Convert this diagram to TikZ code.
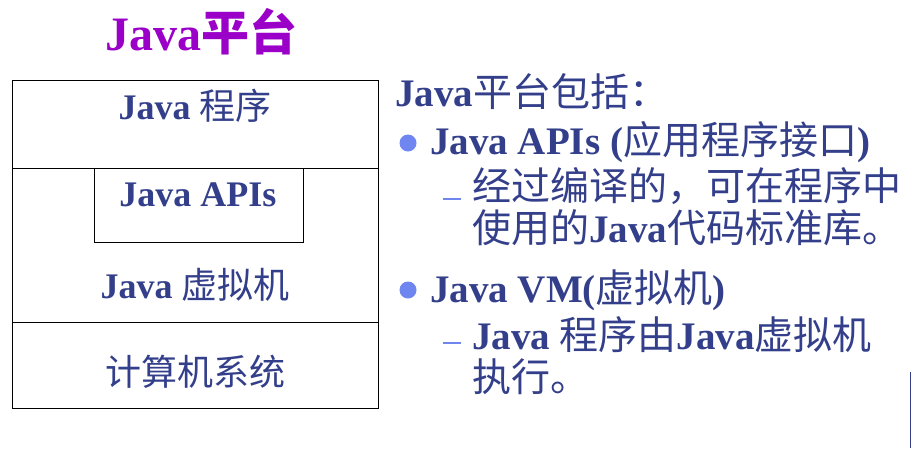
\documentclass[tikz,border=0pt]{standalone}
\usepackage{fontspec}
\setmainfont{Liberation Serif}
\newfontfamily\cjk{Noto Sans CJK SC}
\newcommand{\zh}[1]{{\cjk\mdseries #1}}
\definecolor{txt}{HTML}{333F8A}
\definecolor{ttl}{HTML}{9A00C8}
\definecolor{bul}{HTML}{6F86F0}
\begin{document}
\begin{tikzpicture}[x=1pt,y=-1pt,
  lbl/.style={font=\fontsize{36}{38}\selectfont\bfseries, text=txt, inner sep=0pt},
  rt/.style={font=\fontsize{39}{42}\selectfont\bfseries, text=txt, inner sep=0pt, anchor=west, align=left},
  box/.style={draw=black, line width=0.8pt}]
\useasboundingbox (0,0) rectangle (912,448);
\node[inner sep=0pt, text=ttl, font=\fontsize{48}{50}\selectfont\bfseries] (title) at (201,32) {Java{\cjk\bfseries 平台}};
\draw[box] (12,80) rectangle (378,408);
\draw[box] (12,168) -- (378,168);
\draw[box] (12,322) -- (378,322);
\draw[box] (94,168) rectangle (303,242);
\node[lbl] (prog) at (195,106) {Java \zh{程序}};
\node[lbl] (api) at (198,195) {Java APIs};
\node[lbl] (vm) at (195,285) {Java \zh{虚拟机}};
\node[lbl] (sys) at (195,372) {\zh{计算机系统}};
\node[rt] (h) at (395,92) {Java\zh{平台包括：}};
\fill[bul] (408,143) circle (8.5);
\node[rt] (b1) at (430,142) {Java APIs (\zh{应用程序接口})};
\draw[bul, line width=1.5pt] (443,199) -- (461,199);
\node[rt, anchor=north west] (s1) at (472,167) {\zh{经过编译的，可在程序中}\\\zh{使用的}Java\zh{代码标准库。}};
\fill[bul] (408,290) circle (8.5);
\node[rt] (b2) at (430,290) {Java VM(\zh{虚拟机})};
\draw[bul, line width=1.5pt] (443,343) -- (461,343);
\node[rt, anchor=north west] (s2) at (472,316) {Java \zh{程序由}Java\zh{虚拟机}\\\zh{执行。}};
\draw[txt, line width=0.8pt] (910,372) -- (910,448);
\end{tikzpicture}
\end{document}
